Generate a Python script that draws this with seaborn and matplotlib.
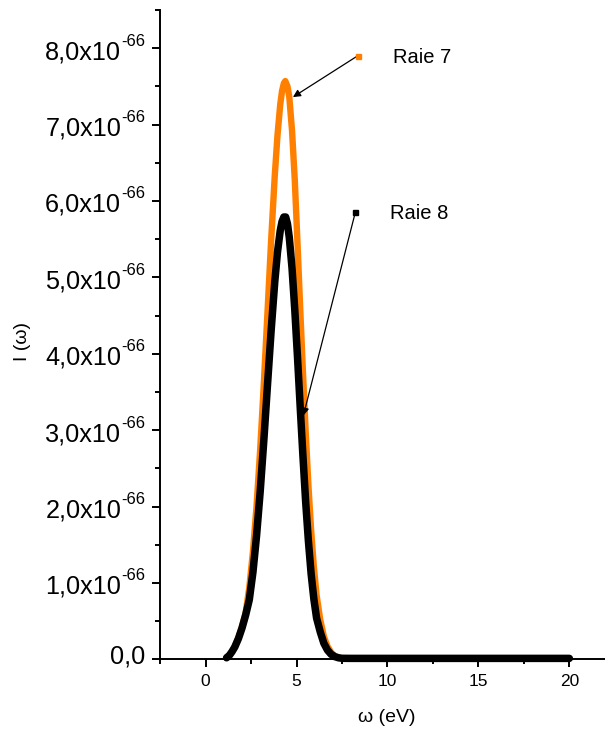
import matplotlib
matplotlib.use("Agg")
import matplotlib.pyplot as plt
import seaborn as sns
import pandas as pd
from matplotlib.ticker import MultipleLocator

# ---- data (intensity in units of 1e-66) ----
omega_raie7 = [1.15, 1.3, 1.45, 1.6, 1.8, 2.0, 2.2, 2.4, 2.6, 2.8, 3.0, 3.2, 3.4, 3.6,
               3.8, 3.95, 4.1, 4.2, 4.3, 4.38, 4.5, 4.6, 4.75, 4.9, 5.05, 5.2, 5.35,
               5.5, 5.65, 5.8, 5.95, 6.1, 6.3, 6.5, 6.7, 6.9, 7.1, 7.3, 7.5, 8.0,
               10.0, 12.5, 15.0, 17.5, 20.0]
I_raie7 = [0.02, 0.05, 0.10, 0.17, 0.28, 0.43, 0.61, 0.94, 1.41, 2.01, 2.75, 3.61, 4.54, 5.48,
           6.33, 6.86, 7.26, 7.44, 7.54, 7.57, 7.50, 7.36, 6.92, 6.28, 5.45, 4.59, 3.76,
           2.98, 2.28, 1.69, 1.21, 0.84, 0.52, 0.30, 0.17, 0.09, 0.045, 0.022, 0.013, 0.012,
           0.012, 0.012, 0.012, 0.012, 0.012]

omega_raie8 = [1.15, 1.3, 1.45, 1.6, 1.8, 2.0, 2.2, 2.4, 2.6, 2.8, 3.0, 3.2, 3.4, 3.6,
               3.8, 3.95, 4.1, 4.2, 4.3, 4.4, 4.5, 4.6, 4.75, 4.9, 5.05, 5.2, 5.35,
               5.5, 5.65, 5.8, 5.95, 6.1, 6.3, 6.5, 6.7, 6.9, 7.1, 7.3, 7.5, 8.0,
               10.0, 12.5, 15.0, 17.5, 20.0]
I_raie8 = [0.02, 0.05, 0.10, 0.16, 0.27, 0.41, 0.58, 0.78, 1.14, 1.62, 2.20, 2.87, 3.59, 4.30,
           4.94, 5.33, 5.61, 5.73, 5.79, 5.79, 5.70, 5.52, 5.12, 4.58, 3.96, 3.30, 2.66,
           2.06, 1.55, 1.12, 0.79, 0.54, 0.36, 0.21, 0.12, 0.065, 0.035, 0.02, 0.013, 0.012,
           0.012, 0.012, 0.012, 0.012, 0.012]

y_ticks = [0, 1, 2, 3, 4, 5, 6, 7, 8]
y_tick_main = ["0,0", "1,0x10", "2,0x10", "3,0x10", "4,0x10", "5,0x10", "6,0x10", "7,0x10", "8,0x10"]
y_tick_exp = "-66"
x_ticks = [0, 5, 10, 15, 20]
x_tick_labels = ["0", "5", "10", "15", "20"]
labels = ["Raie 7", "Raie 8"]

ORANGE = "#FF8000"

sns.set_theme(style="ticks")
plt.rcParams["font.family"] = ["Liberation Sans", "DejaVu Sans"]

W, H = 605, 731
fig = plt.figure(figsize=(W / 100, H / 100), dpi=100)
ax = fig.add_axes([160.2 / W, (H - 659.3) / H, (605.7 - 160.2) / W, (659.3 - 10) / H])

df7 = pd.DataFrame({"omega": omega_raie7, "I": I_raie7})
df8 = pd.DataFrame({"omega": omega_raie8, "I": I_raie8})
sns.lineplot(data=df7, x="omega", y="I", color=ORANGE, lw=4.6, ax=ax, sort=False,
             clip_on=False, zorder=3, solid_joinstyle="round")
sns.lineplot(data=df8, x="omega", y="I", color="black", lw=5.4, ax=ax, sort=False,
             clip_on=False, zorder=4, solid_joinstyle="round")

ax.set_xlim(-2.5, 22)
ax.set_ylim(0, 8.5)
sns.despine(ax=ax)
for s in ["left", "bottom"]:
    ax.spines[s].set_linewidth(1.4)
    ax.spines[s].set_color("black")
    ax.spines[s].set_zorder(5)

ax.set_xticks(x_ticks)
ax.set_xticklabels(x_tick_labels, fontsize=12.5)
ax.xaxis.set_minor_locator(MultipleLocator(2.5))
ax.set_yticks(y_ticks)
ax.set_yticklabels([])
ax.yaxis.set_minor_locator(MultipleLocator(0.5))
ax.tick_params(which="major", length=5.8, width=1.4, color="black", direction="out")
ax.tick_params(which="minor", length=3.6, width=1.4, color="black", direction="out")
ax.tick_params(axis="x", which="major", pad=5, labelcolor="black")

# y tick labels with superscript exponent
for v, lab in zip(y_ticks, y_tick_main):
    if v == 0:
        ax.annotate(lab, xy=(0, v), xycoords=("axes fraction", "data"),
                    xytext=(-15, -4.5), textcoords="offset pixels",
                    ha="right", va="baseline", fontsize=18.2, color="black")
    else:
        ax.annotate(lab, xy=(0, v), xycoords=("axes fraction", "data"),
                    xytext=(-39, -11), textcoords="offset pixels",
                    ha="right", va="baseline", fontsize=18.2, color="black")
        ax.annotate(y_tick_exp, xy=(0, v), xycoords=("axes fraction", "data"),
                    xytext=(-14.5, 2.5), textcoords="offset pixels",
                    ha="right", va="baseline", fontsize=12, color="black")

ax.set_xlabel("ω (eV)", fontsize=14, color="black")
ax.set_ylabel("I (ω)", fontsize=14, color="black")
ax.xaxis.set_label_coords(0.508, -0.09)
ax.xaxis.label.set_va("center")
ax.yaxis.set_label_coords(-0.31, 0.49)
ax.yaxis.label.set_va("center")

# annotations
arrow = dict(arrowstyle="-|>", color="black", lw=0.9, mutation_scale=11,
             shrinkA=0, shrinkB=0)
ax.annotate("", xy=(4.80, 7.36), xytext=(8.36, 7.90), arrowprops=arrow, zorder=6)
ax.plot([8.36], [7.90], marker="s", ms=3.6, color=ORANGE, zorder=7, clip_on=False)
ax.text(10.29, 7.88, labels[0], fontsize=14.5, ha="left", va="center", color="black")

ax.annotate("", xy=(5.37, 3.19), xytext=(8.23, 5.85), arrowprops=arrow, zorder=6)
ax.plot([8.23], [5.85], marker="s", ms=3.6, color="black", zorder=7, clip_on=False)
ax.text(10.15, 5.84, labels[1], fontsize=14.5, ha="left", va="center", color="black")

fig.savefig("out.png", dpi=100)
